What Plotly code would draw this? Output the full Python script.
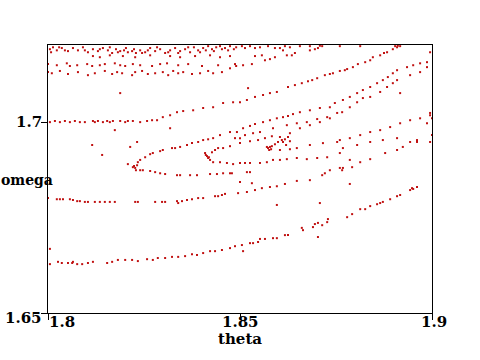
import plotly.graph_objects as go

# ---- data (theta, omega), grouped by visible band ----
theta_top = [1.8005,1.8013,1.8023,1.8036,1.8052,1.8065,1.8078,1.8091,1.8104,1.8117,1.8130,1.8143,1.8156,1.8167,1.8177,1.8188,1.8198,1.8208,1.8219,1.8229,1.8240,1.8253,1.8266,1.8279,1.8292,1.8305,1.8318,1.8331,1.8344,1.8357,1.8370,1.8380,1.8391,1.8404,1.8417,1.8427,1.8438,1.8448,1.8461,1.8474,1.8490,1.8505,1.8526,1.8552,1.8591,1.8630,1.8656,1.8708,
             1.8008,1.8029,1.8044,1.8096,1.8135,1.8161,1.8182,1.8203,1.8224,1.8245,1.8260,1.8284,1.8313,1.8339,1.8365,1.8396,1.8411,1.8432,1.8453,1.8469,1.8484,1.8513,1.8539,1.8573,1.8617,1.8682,1.8760,1.8813,1.8904,1.8911,
             1.8117,1.8135,1.8161,1.8195,1.8227,1.8266,1.8318,1.8344,1.8383,1.8422,1.8448,1.8474]
omega_top = [1.7191,1.7196,1.7188,1.7194,1.7186,1.7194,1.7188,1.7196,1.7183,1.7191,1.7186,1.7194,1.7188,1.7181,1.7191,1.7186,1.7188,1.7183,1.7186,1.7181,1.7188,1.7183,1.7194,1.7186,1.7191,1.7181,1.7188,1.7194,1.7186,1.7191,1.7183,1.7196,1.7188,1.7194,1.7199,1.7191,1.7196,1.7199,1.7194,1.7199,1.7196,1.7199,1.7199,1.7196,1.7194,1.7196,1.7199,1.7200,
             1.7183,1.7196,1.7188,1.7188,1.7191,1.7196,1.7183,1.7194,1.7191,1.7181,1.7188,1.7196,1.7183,1.7181,1.7196,1.7183,1.7188,1.7186,1.7191,1.7188,1.7191,1.7194,1.7194,1.7199,1.7199,1.7199,1.7199,1.7199,1.7199,1.7200,
             1.7173,1.7170,1.7175,1.7173,1.7170,1.7175,1.7173,1.7170,1.7173,1.7175,1.7170,1.7173]

theta_b = [1.8000,1.8023,1.8049,1.8057,1.8076,1.8102,1.8115,1.8135,1.8148,1.8174,1.8188,1.8201,1.8221,1.8240,1.8271,1.8292,1.8310,1.8339,1.8365,1.8401,1.8443,1.8487,
           1.8508,1.8531,1.8539,1.8557,1.8565,1.8578,1.8591,1.8604,1.8612,1.8622,1.8635,1.8643,1.8682,1.8695,1.8703,1.8714]
omega_b = [1.7152,1.7149,1.7154,1.7147,1.7149,1.7152,1.7147,1.7149,1.7152,1.7154,1.7149,1.7147,1.7152,1.7149,1.7147,1.7152,1.7154,1.7149,1.7152,1.7147,1.7149,1.7152,
           1.7149,1.7152,1.7173,1.7175,1.7162,1.7165,1.7170,1.7194,1.7188,1.7175,1.7175,1.7181,1.7188,1.7191,1.7194,1.7199]

theta_c = [1.8000,1.8010,1.8031,1.8052,1.8078,1.8104,1.8122,1.8148,1.8167,1.8180,1.8193,1.8219,1.8227,1.8245,1.8260,1.8279,1.8299,1.8313,1.8326,1.8339,1.8352,1.8375,1.8396,1.8417,
           1.8430,1.8453,1.8474,1.8490]
omega_c = [1.7131,1.7128,1.7134,1.7126,1.7131,1.7123,1.7128,1.7134,1.7126,1.7131,1.7128,1.7123,1.7131,1.7134,1.7126,1.7128,1.7131,1.7123,1.7134,1.7128,1.7131,1.7126,1.7128,1.7134,
           1.7128,1.7131,1.7141,1.7147]

theta_d = [1.8005,1.8018,1.8031,1.8044,1.8057,1.8070,1.8083,1.8096,1.8117,1.8122,1.8130,1.8143,1.8154,1.8161,1.8169,1.8188,1.8201,1.8208,1.8221,1.8240,1.8258,1.8271,1.8284,
           1.8299,1.8318,1.8336,1.8352,1.8378,1.8404,1.8430,1.8456,1.8482,1.8500,1.8518,1.8560,1.8596,1.8625,1.8661,1.8688,1.8701,1.8721,1.8742,1.8760,1.8779,1.8794,1.8807,1.8826,1.8846,1.8865,1.8883,1.8898,1.8909,1.8917,
           1.8539,1.8578,1.8643,1.8677,1.8734,1.8773,1.8839,1.8875]
omega_d = [1.7000,1.7003,1.7000,1.7003,1.7000,1.7003,1.7000,1.7000,1.7003,1.7000,1.7003,1.7000,1.7003,1.7000,1.7003,1.7003,1.7000,1.7003,1.7003,1.7000,1.7003,1.7005,1.7005,
           1.7013,1.7018,1.7026,1.7029,1.7031,1.7037,1.7039,1.7050,1.7052,1.7052,1.7058,1.7071,1.7079,1.7092,1.7102,1.7110,1.7115,1.7123,1.7128,1.7134,1.7139,1.7144,1.7152,1.7157,1.7170,1.7175,1.7183,1.7191,1.7196,1.7199,
           1.7066,1.7076,1.7097,1.7107,1.7126,1.7136,1.7162,1.7181]

theta_e = [1.8240,1.8253,1.8266,1.8273,1.8292,1.8299,1.8323,1.8331,1.8344,1.8362,1.8375,1.8391,1.8404,1.8417,1.8430,1.8448,1.8474,1.8492,1.8508,1.8526,1.8539,1.8560,1.8578,1.8596,1.8612,1.8625,1.8638,1.8656,1.8682,1.8708,1.8734,1.8747,1.8768,1.8786,1.8805,1.8820,1.8839,1.8857,1.8872,1.8885,1.8898,1.8909,1.8935,1.8951,1.8969,1.8987,
           1.8487,1.8500,1.8513,1.8534,1.8552,1.8586,1.8622,1.8648,1.8674,1.8701,1.8727,1.8753,1.8766,1.8786,1.8805,1.8820,1.8839,1.8865,1.8883,1.8898,1.8909,1.8943,1.8969,1.8987]
omega_e = [1.6901,1.6908,1.6916,1.6919,1.6924,1.6927,1.6932,1.6932,1.6935,1.6940,1.6945,1.6948,1.6953,1.6955,1.6958,1.6966,1.6974,1.6974,1.6984,1.6990,1.6995,1.7000,1.7005,1.7010,1.7013,1.7016,1.7021,1.7026,1.7031,1.7037,1.7039,1.7050,1.7058,1.7066,1.7076,1.7084,1.7092,1.7102,1.7110,1.7118,1.7128,1.7136,1.7144,1.7149,1.7154,1.7157,
           1.6958,1.6958,1.6966,1.6971,1.6974,1.6984,1.6992,1.6997,1.7000,1.7008,1.7013,1.7024,1.7026,1.7039,1.7052,1.7063,1.7066,1.7079,1.7092,1.7102,1.7110,1.7123,1.7131,1.7144]

theta_f = [1.8409,1.8411,1.8414,1.8417,1.8419,1.8422,
           1.8427,1.8435,1.8443,1.8456,1.8474,1.8500,1.8526,1.8547,1.8565,1.8583,1.8604,1.8630,1.8656,1.8682,1.8708,1.8734,
           1.8570,1.8573,1.8578,1.8581,1.8583,1.8591,1.8599,1.8609,1.8617,1.8612,1.8625,1.8630,1.8620,1.8576,
           1.8604,1.8630,1.8648,1.8682,1.8716,1.8753,1.8760,1.8786,1.8813,1.8839,1.8865,1.8891,1.8917,1.8943,1.8969,1.8995,
           1.8768,1.8805,1.8839,1.8872,1.8909,1.8943,1.8961]
omega_f = [1.6919,1.6914,1.6911,1.6906,1.6908,1.6901,
           1.6921,1.6927,1.6932,1.6932,1.6937,1.6945,1.6950,1.6953,1.6958,1.6963,1.6961,1.6971,1.6984,1.6992,1.7000,1.7010,
           1.6935,1.6932,1.6935,1.6929,1.6937,1.6942,1.6948,1.6953,1.6955,1.6948,1.6961,1.6950,1.6940,1.6927,
           1.6927,1.6929,1.6932,1.6940,1.6945,1.6948,1.6953,1.6958,1.6966,1.6974,1.6979,1.6987,1.6997,1.7005,1.7010,1.7018,
           1.6932,1.6940,1.6948,1.6953,1.6958,1.6948,1.6953]

theta_g = [1.8221,1.8227,1.8232,1.8234,1.8224,1.8229,
           1.8240,1.8247,1.8266,1.8279,1.8292,1.8305,1.8336,1.8344,1.8370,1.8388,1.8422,1.8440,1.8456,1.8474,1.8479,1.8518,1.8526,
           1.8430,1.8448,1.8466,1.8482,1.8500,1.8513,1.8526,1.8552,1.8570,1.8586,1.8604,1.8622,1.8648,1.8674,1.8701,1.8727,1.8760,1.8786,1.8813,1.8839,1.8878,1.8909,1.8924,1.8961]
omega_g = [1.6882,1.6880,1.6887,1.6895,1.6885,1.6874,
           1.6874,1.6874,1.6872,1.6869,1.6866,1.6864,1.6861,1.6861,1.6861,1.6861,1.6864,1.6864,1.6866,1.6866,1.6866,1.6869,1.6869,
           1.6895,1.6895,1.6893,1.6890,1.6893,1.6893,1.6893,1.6893,1.6895,1.6901,1.6901,1.6903,1.6906,1.6903,1.6906,1.6908,1.6919,1.6901,1.6895,1.6903,1.6919,1.6927,1.6935,1.6948]

theta_h = [1.8000,1.8023,1.8031,1.8039,1.8057,1.8065,1.8076,1.8083,1.8096,1.8104,1.8122,1.8135,1.8148,1.8161,1.8174,1.8227,1.8234,1.8279,1.8297,1.8305,1.8336,1.8339,1.8349,1.8362,1.8375,1.8391,1.8404,1.8435,1.8443,1.8453,1.8461,1.8495,1.8518,1.8539,1.8557,1.8578,1.8596,1.8617,1.8648,1.8682,1.8714,1.8721,1.8734,1.8760,1.8768,1.8792,1.8766]
omega_h = [1.6801,1.6798,1.6798,1.6798,1.6798,1.6796,1.6793,1.6793,1.6791,1.6791,1.6791,1.6791,1.6791,1.6791,1.6791,1.6791,1.6791,1.6791,1.6791,1.6791,1.6793,1.6788,1.6793,1.6796,1.6798,1.6801,1.6801,1.6806,1.6806,1.6809,1.6812,1.6814,1.6817,1.6822,1.6827,1.6830,1.6832,1.6838,1.6846,1.6848,1.6861,1.6866,1.6874,1.6880,1.6880,1.6882,1.6874]

theta_i = [1.8005,1.8026,1.8036,1.8052,1.8063,1.8065,1.8076,1.8089,1.8104,1.8117,1.8154,1.8167,1.8182,1.8201,1.8219,1.8234,1.8258,1.8273,1.8286,1.8305,1.8323,1.8339,1.8357,1.8375,1.8388,1.8404,1.8422,1.8435,1.8453,1.8474,1.8487,1.8505,1.8508,1.8526,1.8534,1.8547,1.8552,1.8565,1.8586,1.8596,1.8617,1.8625,1.8661,1.8664,1.8690,1.8695,1.8703,1.8714,1.8703,1.8727,1.8729,1.8779,1.8792,1.8813,1.8826,1.8839,1.8857,1.8865,1.8872,1.8891,1.8909,1.8917,1.8943,1.8948,1.8951,1.8961,1.8005]
omega_i = [1.6628,1.6634,1.6631,1.6631,1.6631,1.6634,1.6628,1.6628,1.6631,1.6634,1.6631,1.6634,1.6639,1.6639,1.6639,1.6636,1.6641,1.6639,1.6644,1.6644,1.6647,1.6647,1.6649,1.6654,1.6652,1.6657,1.6662,1.6662,1.6665,1.6670,1.6675,1.6678,1.6662,1.6683,1.6683,1.6686,1.6694,1.6694,1.6696,1.6696,1.6704,1.6704,1.6723,1.6717,1.6725,1.6733,1.6736,1.6730,1.6699,1.6738,1.6746,1.6751,1.6759,1.6772,1.6772,1.6780,1.6785,1.6788,1.6791,1.6798,1.6806,1.6809,1.6822,1.6827,1.6825,1.6830,1.6668]

theta_s = [1.8188,1.8174,1.8115,1.8141,1.8232,1.8214,1.8318,1.8521,1.8917,1.8995,1.8995,1.9000,1.8987,1.8995,1.9000,1.8500,1.8531,1.8596,1.8708,1.8786,1.8208]
omega_s = [1.7076,1.6979,1.6940,1.6914,1.6948,1.6935,1.6984,1.7089,1.7076,1.7183,1.7024,1.7010,1.6997,1.6948,1.6966,1.6843,1.6840,1.6783,1.6788,1.6838,1.6890]

x_ticks = [1.8, 1.85, 1.9]
x_tick_labels = ["1.8", "1.85", "1.9"]
y_ticks = [1.65, 1.7]
y_tick_labels = ["1.65", "1.7"]
x_range = [1.8, 1.9]
y_range = [1.65, 1.7202]

theta_all = theta_top + theta_b + theta_c + theta_d + theta_e + theta_f + theta_g + theta_h + theta_i + theta_s
omega_all = omega_top + omega_b + omega_c + omega_d + omega_e + omega_f + omega_g + omega_h + omega_i + omega_s

FONT = "DejaVu Serif"

fig = go.Figure()
fig.add_trace(go.Scatter(
    x=theta_all, y=omega_all, mode="markers",
    marker=dict(symbol="square", size=2, color="#c01010", line=dict(width=0)),
    hoverinfo="skip", showlegend=False,
))

axis_common = dict(showline=True, linecolor="black", linewidth=1, mirror=True,
                   showgrid=False, zeroline=False, ticks="outside", ticklen=6,
                   tickcolor="black", showticklabels=False)
fig.update_layout(
    width=480, height=360,
    margin=dict(l=48, r=48, t=45, b=47),
    paper_bgcolor="white", plot_bgcolor="white",
    xaxis=dict(range=x_range, tickvals=x_ticks, **axis_common),
    yaxis=dict(range=y_range, tickvals=y_ticks, **axis_common),
)

tfont = dict(family=FONT, size=15, color="black", weight="bold")
anns = []
for v, t in zip(x_ticks, x_tick_labels):
    anns.append(dict(x=v, y=0, xref="x", yref="paper", text=t, showarrow=False,
                     xanchor="left" if v == x_ticks[0] else "center",
                     xshift=0 if v == x_ticks[0] else (2 if v == x_ticks[-1] else 0),
                     yanchor="top", yshift=1, borderpad=0, font=tfont))
for v, t in zip(y_ticks, y_tick_labels):
    anns.append(dict(x=0, y=v, xref="paper", yref="y", text=t, showarrow=False,
                     xanchor="right", xshift=-4, yanchor="middle",
                     yshift=-5 if v == y_ticks[0] else 0, font=tfont))
anns.append(dict(x=-0.125, y=1.6848, xref="paper", yref="y", text="omega", showarrow=False,
                 xanchor="left", yanchor="middle", xshift=-1,
                 font=dict(family=FONT, size=14, color="black", weight="bold")))
anns.append(dict(x=1.85, y=0, xref="x", yref="paper", text="theta", showarrow=False,
                 xanchor="center", yanchor="top", yshift=-16, borderpad=0, font=tfont))
fig.update_layout(annotations=anns)

# remove the default 8px body margin of the page so the figure sits at (0, 0)
fig.write_html("out.html", config={"displayModeBar": False},
               post_script="document.body.style.margin='0';")
